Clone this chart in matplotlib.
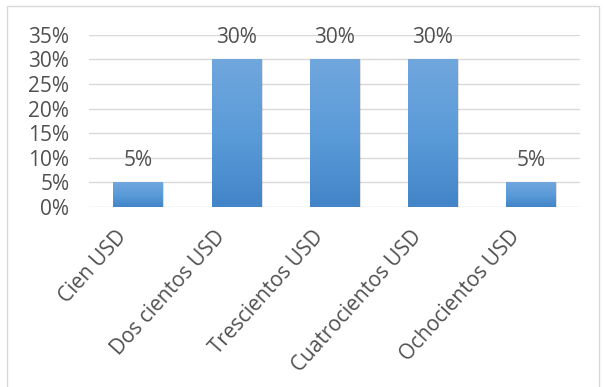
import numpy as np
import matplotlib.pyplot as plt
from matplotlib.colors import LinearSegmentedColormap
from matplotlib.patches import Rectangle
from matplotlib.transforms import ScaledTranslation

categories = ['Cien USD', 'Dos cientos USD', 'Trescientos USD', 'Cuatrocientos USD', 'Ochocientos USD']
values = [0.05, 0.30, 0.30, 0.30, 0.05]
labels = ['5%', '30%', '30%', '30%', '5%']
yticks = [0, 0.05, 0.10, 0.15, 0.20, 0.25, 0.30, 0.35]

plt.rcParams['font.family'] = ['Open Sans', 'DejaVu Sans']

fig = plt.figure(figsize=(6.04, 3.87), dpi=100)
ax = fig.add_axes([0.147, 0.465, 0.813, 0.445])

# outer chart border
fig.patches.append(Rectangle((0.012, -0.02), 0.98, 1.005, transform=fig.transFigure,
                             fill=False, edgecolor='#d9d9d9', linewidth=1))

cmap = LinearSegmentedColormap.from_list('bar', ['#4285c8', '#5b9bd9', '#70a7dd'])
grad = np.linspace(0, 1, 256).reshape(-1, 1)
width = 0.5
x = np.arange(len(categories))
fs = 15
tc = '#505050'

for xi, v, lab in zip(x, values, labels):
    # soft shadow
    ax.add_patch(Rectangle((xi - width / 2 + 0.02, -0.002), width, v, facecolor='#000000',
                           alpha=0.12, edgecolor='none', zorder=2))
    ax.imshow(grad, cmap=cmap, origin='lower', aspect='auto',
              extent=(xi - width / 2, xi + width / 2, 0, v), zorder=3)
    ax.annotate(lab, (xi, v), xytext=(0, 8), textcoords='offset points',
                ha='center', va='bottom', fontsize=fs, color=tc)

ax.set_xlim(-0.5, len(categories) - 0.5)
ax.set_ylim(0, 0.35)
ax.set_yticks(yticks)
ax.set_yticklabels([f'{int(round(t * 100))}%' for t in yticks])
ax.set_xticks(x)
ax.set_xticklabels(categories, rotation=48, ha='right', rotation_mode='anchor')
ax.tick_params(length=0, labelsize=fs, labelcolor=tc)
ax.tick_params(axis='x', pad=14)
ax.tick_params(axis='y', pad=14)
shift = ScaledTranslation(-16 / 72, 0, fig.dpi_scale_trans)
for t in ax.get_xticklabels():
    t.set_transform(t.get_transform() + shift)
ax.grid(axis='y', color='#d9d9d9', linewidth=1)
ax.set_axisbelow(True)
for s in ax.spines.values():
    s.set_visible(False)

fig.savefig('out.png', dpi=100)
